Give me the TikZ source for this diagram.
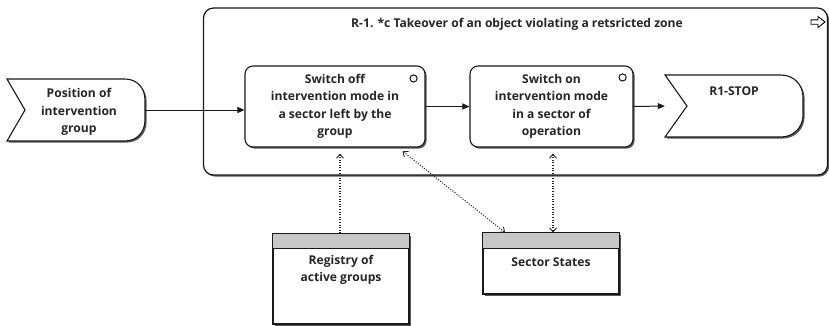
\documentclass[tikz,border=0pt]{standalone}
\usepackage{fontspec}
\setmainfont{Open Sans}
\usetikzlibrary{arrows.meta,shadows,calc}
\tikzset{
  shd/.style={drop shadow={shadow xshift=1.6pt,shadow yshift=-1.6pt,fill=black!65,opacity=1}},
  lbl/.style={font=\fontsize{12.1}{17.5}\selectfont\bfseries, align=center, text=black!85},
  procbox/.style={draw=black!90, line width=1.1pt, rounded corners=8pt, fill=white, shd, inner sep=0pt, lbl},
  databox/.style={draw=black!90, line width=1.1pt, fill=white, shd, inner sep=0pt},
  flow/.style={line width=1pt, draw=black!90, -{Triangle[length=7pt,width=6pt]}},
  dotarr/.style={line width=1.1pt, dash pattern=on 1pt off 1.6pt, draw=black!85},
  vtip/.tip={Straight Barb[length=4pt,width=7pt,line width=0.9pt,sep=0pt]},
}
\begin{document}
\begin{tikzpicture}[x=1pt,y=-1pt]
\useasboundingbox (0,0) rectangle (829,325);
% container
\node[draw=black!90, line width=1.2pt, rounded corners=10pt, fill=white, shd,
      minimum width=624pt, minimum height=167pt, inner sep=0pt] (cont) at (515.5,91.5) {};
\node[lbl] (title) at (517,24) {R-1. *c Takeover of an object violating a retsricted zone};
\draw[line width=0.9pt, fill=white] (811,19.8) -- (818,19.8) -- (818,16.5) -- (825,22) -- (818,27.5) -- (818,24.2) -- (811,24.2) -- cycle;
% input chevron
\node[minimum width=138pt, minimum height=62pt, inner sep=0pt] (pos) at (76,110) {};
\draw[line width=1.1pt, draw=black!90, fill=white, shd]
  (7,79) -- (125,79) .. controls (137,79) and (145,88) .. (145,100) -- (145,120) .. controls (145,132) and (137,141) .. (125,141) -- (7,141) -- (25,110) -- cycle;
\node[lbl] (postext) at (79,112) {Position of\\intervention\\group};
% process boxes
\node[procbox, minimum width=180pt, minimum height=81pt] (b1) at (335,106.5) {Switch off\\intervention mode in\\a sector left by the\\group};
\node[procbox, minimum width=163pt, minimum height=81pt] (b2) at (551.5,106.5) {Switch on\\intervention mode\\in a sector of\\operation};
\draw[line width=0.9pt] ($(b1.north east)+(-12,13)$) circle (3.6pt);
\draw[line width=0.9pt] ($(b2.north east)+(-11,12)$) circle (3.6pt);
% stop chevron
\node[minimum width=138pt, minimum height=62pt, inner sep=0pt] (stop) at (734,106) {};
\draw[line width=1.1pt, draw=black!90, fill=white, shd]
  (665,75) -- (781,75) .. controls (794,75) and (803,85) .. (803,97) -- (803,115) .. controls (803,127) and (794,137) .. (781,137) -- (665,137) -- (687,106) -- cycle;
\node[lbl] (stoptext) at (734,91) {R1-STOP};
% data boxes
\node[databox, minimum width=136pt, minimum height=90pt] (reg) at (341,279) {};
\fill[black!22] ($(reg.north west)+(0.6,0.6)$) rectangle ($(reg.north east)+(-0.6,15)$);
\draw[line width=1.1pt, draw=black!90] ($(reg.north west)+(0,15)$) -- ($(reg.north east)+(0,15)$);
\draw[line width=1.1pt, draw=black!90] (reg.north west) rectangle (reg.south east);
\node[lbl] (regtext) at (341,270) {Registry of\\active groups};
\node[databox, minimum width=136pt, minimum height=61pt] (sec) at (551,263.5) {};
\fill[black!22] ($(sec.north west)+(0.6,0.6)$) rectangle ($(sec.north east)+(-0.6,16)$);
\draw[line width=1.1pt, draw=black!90] ($(sec.north west)+(0,16)$) -- ($(sec.north east)+(0,16)$);
\draw[line width=1.1pt, draw=black!90] (sec.north west) rectangle (sec.south east);
\node[lbl] (sectext) at (551,262) {Sector States};
% flows
\draw[flow] (pos.east) -- (pos.east -| b1.west);
\draw[flow] (b1.east) -- (b2.west);
\draw[flow] (b2.east) -- (stop.west);
% associations
\draw[dotarr, arrows={-vtip}, shorten >=6pt] ([xshift=-1pt]reg.north) -- ([xshift=-1pt]reg.north |- b1.south);
\draw[dotarr, arrows={vtip-vtip}, shorten <=6pt] ([xshift=63pt]b1.south) -- ([xshift=-46pt]sec.north);
\draw[dotarr, arrows={vtip-vtip}, shorten <=6pt] ([xshift=1.5pt]b2.south) -- ([xshift=2pt]sec.north);
\end{tikzpicture}
\end{document}
